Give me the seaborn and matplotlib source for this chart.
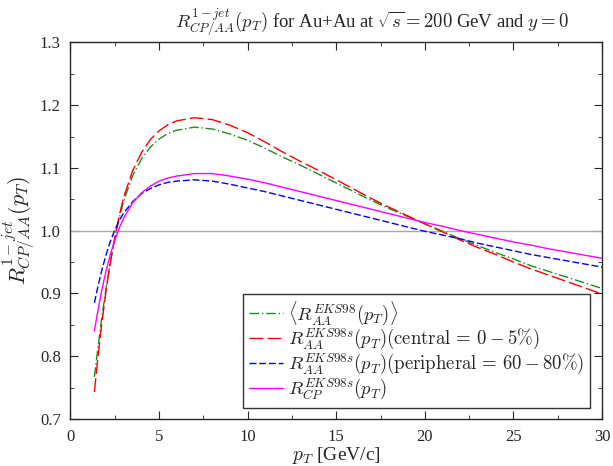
import pandas as pd
import matplotlib
matplotlib.use("Agg")
import matplotlib.pyplot as plt
import seaborn as sns
from matplotlib.ticker import MultipleLocator

pt = [1.35, 1.5, 1.75, 2.0, 2.25, 2.5, 2.75, 3.0, 3.5, 4.0, 4.5, 5.0, 5.5, 6.0,
      7.0, 8.0, 9.0, 10.0, 11.0, 12.0, 13.0, 14.0, 15.0, 16.0, 17.0, 18.0, 19.0,
      20.0, 21.0, 22.0, 23.0, 24.0, 25.0, 26.0, 27.0, 28.0, 29.0, 30.0]

r_aa_avg = [0.767, 0.802, 0.858, 0.907, 0.950, 0.987, 1.020, 1.047, 1.087, 1.114,
            1.133, 1.146, 1.155, 1.160, 1.165, 1.162, 1.154, 1.144, 1.131, 1.117,
            1.104, 1.090, 1.076, 1.062, 1.048, 1.035, 1.023, 1.011, 0.999, 0.987,
            0.976, 0.965, 0.955, 0.944, 0.935, 0.926, 0.917, 0.908]

r_aa_central = [0.743, 0.785, 0.848, 0.903, 0.950, 0.989, 1.024, 1.053, 1.095, 1.124,
                1.145, 1.159, 1.169, 1.175, 1.180, 1.177, 1.168, 1.156, 1.141, 1.125,
                1.110, 1.096, 1.081, 1.066, 1.051, 1.037, 1.024, 1.011, 0.998, 0.985,
                0.973, 0.962, 0.950, 0.939, 0.929, 0.919, 0.909, 0.899]

r_aa_periph = [0.885, 0.905, 0.935, 0.961, 0.983, 1.001, 1.016, 1.028, 1.046, 1.059,
               1.067, 1.073, 1.077, 1.079, 1.081, 1.079, 1.074, 1.068, 1.062, 1.055,
               1.048, 1.041, 1.034, 1.027, 1.020, 1.013, 1.006, 0.999, 0.993, 0.987,
               0.980, 0.974, 0.968, 0.962, 0.957, 0.952, 0.947, 0.942]

r_cp = [0.840, 0.865, 0.903, 0.935, 0.962, 0.985, 1.004, 1.020, 1.044, 1.060,
        1.071, 1.079, 1.084, 1.087, 1.091, 1.091, 1.087, 1.082, 1.076, 1.069,
        1.062, 1.055, 1.048, 1.041, 1.034, 1.027, 1.020, 1.013, 1.007, 1.000,
        0.994, 0.988, 0.982, 0.977, 0.971, 0.966, 0.961, 0.956]

labels = [r"$\langle R_{AA}^{EKS98}(p_T)\rangle$",
          r"$R_{AA}^{EKS98s}(p_T)(\mathrm{central}\,=\,0-5\%)$",
          r"$R_{AA}^{EKS98s}(p_T)(\mathrm{peripheral}\,=\,60-80\%)$",
          r"$R_{CP}^{EKS98s}(p_T)$"]

sns.set_style("ticks")
plt.rcParams["font.family"] = ["Liberation Serif", "DejaVu Serif"]
plt.rcParams["mathtext.fontset"] = "cm"

fig = plt.figure(figsize=(6.13, 4.66), dpi=100)
ax = fig.add_axes([0.115, 0.101, 0.867, 0.808])

ax.axhline(1.0, color="#a8a8a8", lw=1.0, zorder=1)

series = [r_aa_avg, r_aa_central, r_aa_periph, r_cp]
colors = ["#1f8a1f", "#ff0000", "#0000ff", "#ff00ff"]
styles = [(0, (7, 2, 1, 2)), (0, (10, 3)), (0, (5, 2)), "-"]
for vals, lab, c, ls in zip(series, labels, colors, styles):
    sns.lineplot(x=pt, y=vals, ax=ax, color=c, linestyle=ls, lw=1.0, label=lab)

ax.set_xlim(0, 30)
ax.set_ylim(0.7, 1.3)
ax.xaxis.set_major_locator(MultipleLocator(5))
ax.xaxis.set_minor_locator(MultipleLocator(2.5))
ax.yaxis.set_major_locator(MultipleLocator(0.1))
ax.yaxis.set_minor_locator(MultipleLocator(0.05))
ax.tick_params(which="both", direction="in", top=True, right=True, labelsize=12)
ax.tick_params(which="major", length=6)
ax.tick_params(which="minor", length=3)
ax.tick_params(axis="x", pad=7)
ax.tick_params(axis="y", pad=7)
for s in ax.spines.values():
    s.set_linewidth(1.0)

ax.set_xlabel(r"$p_T$ [GeV/c]", fontsize=14, labelpad=0)
ax.set_ylabel(r"$R^{1-jet}_{CP/AA}(p_T)$", fontsize=16, labelpad=2)
ax.set_title(r"$R^{1-jet}_{CP/AA}(p_T)$ for Au+Au at $\sqrt{s}=200$ GeV and $y=0$",
             fontsize=13.5, pad=11, x=0.567)

leg = ax.legend(loc="lower right", bbox_to_anchor=(0.985, 0.02), fontsize=13.5,
                frameon=True, fancybox=False, handlelength=1.8, borderpad=0.3,
                labelspacing=0.0, handletextpad=0.3, borderaxespad=0.2)
leg.get_frame().set_edgecolor("black")
leg.get_frame().set_linewidth(1.0)

fig.savefig("out.png", dpi=100)
